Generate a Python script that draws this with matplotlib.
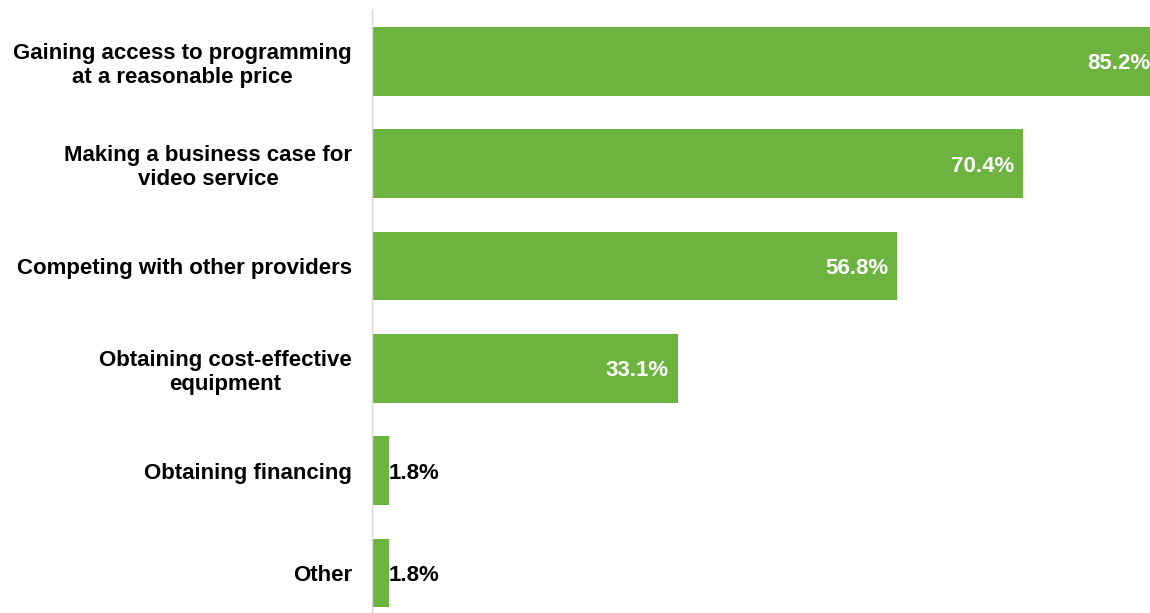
import matplotlib
matplotlib.use("Agg")
import matplotlib.pyplot as plt
from matplotlib.transforms import ScaledTranslation

categories = [
    "Gaining access to programming\nat a reasonable price",
    "Making a business case for\nvideo service",
    "Competing with other providers",
    "Obtaining cost-effective\nequipment",
    "Obtaining financing",
    "Other",
]
values = [85.2, 70.4, 56.8, 33.1, 1.8, 1.8]
value_labels = ["85.2%", "70.4%", "56.8%", "33.1%", "1.8%", "1.8%"]

GREEN = "#6db33f"

plt.rcParams["font.family"] = ["Liberation Sans", "DejaVu Sans"]

fig = plt.figure(figsize=(11.5, 6.13), dpi=100)
ax = fig.add_axes([372 / 1150, -11 / 613, 787.7 / 1150, 613.8 / 613])

ypos = list(range(len(categories)))
ax.barh(ypos, values, height=0.67, color=GREEN)
ax.set_xlim(0, 85.2)
ax.set_ylim(len(categories) - 0.5, -0.5)

ax.set_yticks(ypos)
ax.set_yticklabels(categories, fontsize=16, fontweight="bold", ha="center",
                   linespacing=1.2)
ax.tick_params(axis="y", length=0, pad=0)

# Center each (possibly two-line) label on itself, right edge 20 px left of the axis
fig.canvas.draw()
renderer = fig.canvas.get_renderer()
for lbl in ax.get_yticklabels():
    w = lbl.get_window_extent(renderer).width
    lbl.set_transform(ax.get_yaxis_transform() + ScaledTranslation(
        -(20 + w / 2) / 100, 0, fig.dpi_scale_trans))

ax.set_xticks([])
for side in ["top", "right", "bottom"]:
    ax.spines[side].set_visible(False)
ax.spines["left"].set_color("#d9d9d9")
ax.spines["left"].set_linewidth(1.0)

for y, v, t in zip(ypos, values, value_labels):
    if v > 10:
        ax.annotate(t, (v, y), xytext=(-6.5, 0), textcoords="offset points",
                    ha="right", va="center_baseline", color="white", fontsize=16,
                    fontweight="bold")
    else:
        ax.annotate(t, (v, y), xytext=(0, 0), textcoords="offset points",
                    ha="left", va="center_baseline", color="black", fontsize=16,
                    fontweight="bold")

fig.savefig("out.png", dpi=100)
